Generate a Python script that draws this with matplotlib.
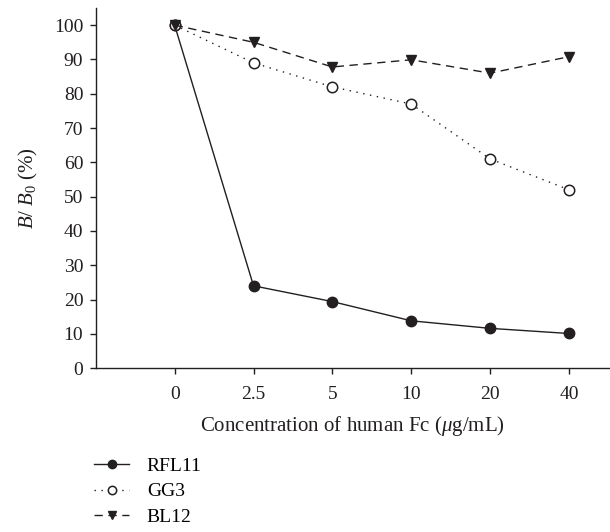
import matplotlib
matplotlib.use("Agg")
import matplotlib.pyplot as plt

categories = ["0", "2.5", "5", "10", "20", "40"]
rfl11 = [100, 24, 19.4, 13.8, 11.6, 10.1]
gg3 = [100, 89, 82, 77, 61, 52]
bl12 = [100, 95, 87.8, 89.9, 86, 90.8]

plt.rcParams['font.family'] = ['Liberation Serif', 'DejaVu Serif']
plt.rcParams['mathtext.fontset'] = 'custom'
plt.rcParams['mathtext.it'] = 'Liberation Serif:italic'
plt.rcParams['mathtext.rm'] = 'Liberation Serif'

fig = plt.figure(figsize=(6.1, 5.32), dpi=100)
ax = fig.add_axes([0.157, 0.308, 0.843, 0.677])
x = list(range(len(categories)))
c = '#231f20'
ax.plot(x, rfl11, '-', color=c, lw=1, marker='o', ms=7.5, mfc=c, mec=c, label='RFL11')
ax.plot(x, gg3, linestyle=(0, (1, 4)), color=c, lw=1, marker='o', ms=7.5, mfc='white', mec=c, mew=1.1, label='GG3')
ax.plot(x, bl12, linestyle=(0, (6, 4)), color=c, lw=1, marker='v', ms=7, mfc=c, mec=c, label='BL12')

ax.set_xlim(-1, 5.52)
ax.set_ylim(0, 105)
ax.set_xticks(x)
ax.set_xticklabels(categories)
ax.set_yticks(range(0, 101, 10))
for s in ['top', 'right']:
    ax.spines[s].set_visible(False)
for s in ['left', 'bottom']:
    ax.spines[s].set_color(c)
    ax.spines[s].set_linewidth(1)
ax.tick_params(axis='both', labelsize=14, colors=c, length=4, width=1, direction='out')
ax.tick_params(axis='x', pad=9)
ax.tick_params(axis='y', pad=5)
ax.set_xlabel(r'Concentration of human Fc ($\mu$g/mL)', fontsize=15, color=c, labelpad=8)
ax.set_ylabel(r'$B$/ $B_0$ (%)', fontsize=15, color=c, labelpad=10)

fig.legend(loc='upper left', bbox_to_anchor=(0.126, 0.174), frameon=False,
           fontsize=14, handlelength=1.8, handletextpad=0.9, labelspacing=0.42,
           markerscale=0.8)
fig.savefig('out.png', dpi=100)
